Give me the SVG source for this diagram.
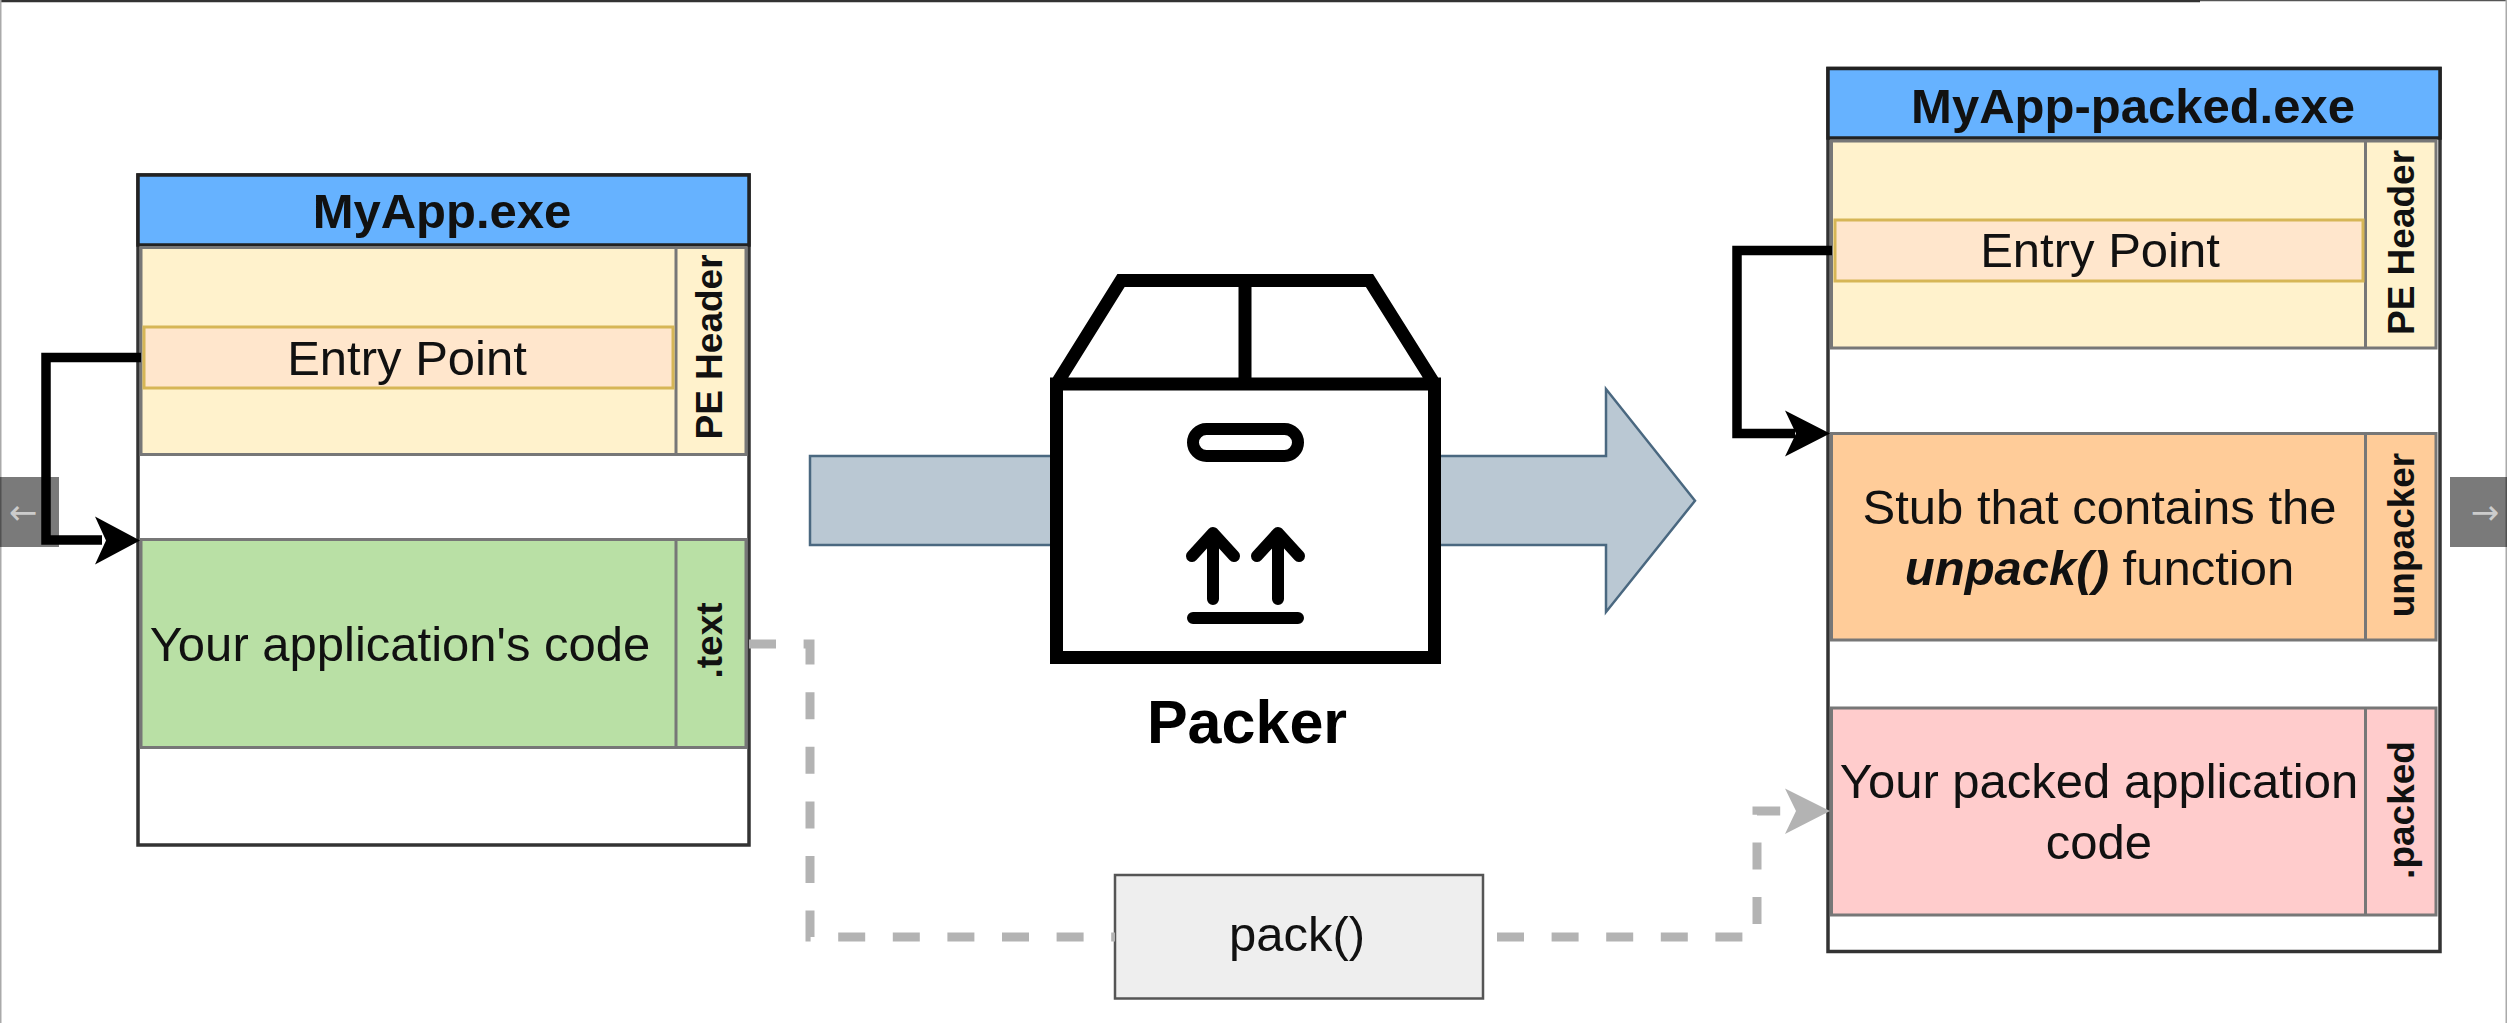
<svg xmlns="http://www.w3.org/2000/svg" width="2507" height="1023" viewBox="0 0 2507 1023">
<defs>
<style>
text{font-family:"Liberation Sans",Arial,sans-serif;fill:#111;text-anchor:middle}
.t{font-size:49px}
.b{font-size:49px;font-weight:bold}
.v{font-size:37px;font-weight:bold}
.outer{fill:#fff;stroke:#333;stroke-width:3.5}
.sec{stroke:#777;stroke-width:3}
.entry{fill:#ffe6cc;stroke:#d6b656;stroke-width:3}
.hdr{fill:#66b2ff;stroke:#222;stroke-width:3.5}
.link{fill:none;stroke:#000;stroke-width:9.5}
.dash{fill:none;stroke:#b3b3b3;stroke-width:9;stroke-dasharray:27 27.6}
.ico{fill:none;stroke:#000;stroke-width:12;stroke-linecap:round;stroke-linejoin:round}
.nav{fill:#000;fill-opacity:.52}
.navt{font-family:"DejaVu Sans",sans-serif;font-size:34px;fill:#ccc}
</style>
</defs>
<rect width="2507" height="1023" fill="#fff"/>
<g id="frame">
<path d="M0 1H2200" stroke="#333" stroke-width="2.5" fill="none"/>
<path d="M2200 .5H2507" stroke="#555" stroke-width="1.5" fill="none"/>
<path d="M.75 0V1023M2506.25 0V1023" stroke="#aaa" stroke-width="1.5" fill="none"/>
</g>
<g id="myapp">
<rect class="outer" x="138" y="175" width="611" height="670"/>
<rect class="hdr" x="138" y="175" width="611" height="70"/>
<text class="b" x="442" y="228">MyApp.exe</text>
</g>
<g id="myapp-header">
<rect class="sec" fill="#fff2cc" x="141" y="247.5" width="605" height="207"/>
<path class="sec" d="M676 247.5V454.500"/>
<text class="v" transform="translate(722 347) rotate(-90)">PE Header</text>
</g>
<g id="myapp-entry">
<rect class="entry" x="144" y="327" width="529" height="61"/>
<text class="t" x="407" y="375">Entry Point</text>
</g>
<g id="myapp-text">
<rect class="sec" fill="#b9e0a5" x="141" y="539.500" width="605" height="208"/>
<path class="sec" d="M676 539.500V747.500"/>
<text class="t" x="400" y="661">Your application's code</text>
<text class="v" transform="translate(722 640.500) rotate(-90)">.text</text>
</g>
<g id="transfer-arrow">
<path d="M810 456H1606V389L1695 500.700L1606 612V545H810Z" fill="#bac8d3" stroke="#4a6880" stroke-width="2.500"/>
</g>
<g id="packer">
<path d="M1056.500 384H1434.500V657.500H1056.500ZM1056.500 384L1121 280.500H1369.500L1434.500 384M1245 280.500V384" fill="#fff" stroke="#000" stroke-width="13" stroke-linejoin="miter"/>
<rect class="ico" x="1193" y="429" width="105" height="27" rx="13.500"/>
<path class="ico" d="M1213 599V533M1192 556L1213 533L1234 556M1278 599V533M1257 556L1278 533L1299 556M1193 618H1298"/>
<text x="1247" y="743" style="font-size:61px;font-weight:bold;fill:#000">Packer</text>
</g>
<g id="packed">
<rect class="outer" x="1828" y="68.500" width="612" height="883"/>
<rect class="hdr" x="1828" y="68.500" width="612" height="69.500"/>
<text class="b" x="2133" y="122.500">MyApp-packed.exe</text>
</g>
<g id="packed-header">
<rect class="sec" fill="#fff2cc" x="1831.500" y="141" width="604.500" height="207"/>
<path class="sec" d="M2365.500 141V348"/>
<text class="v" transform="translate(2414 242.500) rotate(-90)">PE Header</text>
</g>
<g id="packed-entry">
<rect class="entry" x="1835" y="220" width="528" height="61"/>
<text class="t" x="2100" y="267">Entry Point</text>
</g>
<g id="packed-stub">
<rect class="sec" fill="#ffcc99" x="1831.500" y="433.500" width="604.500" height="206.500"/>
<path class="sec" d="M2365.500 433.500V640"/>
<text class="t" x="2099.500" y="523.500">Stub that contains the</text>
<text class="t" x="2099.500" y="585"><tspan font-weight="bold" font-style="italic">unpack()</tspan> function</text>
<text class="v" transform="translate(2414 535) rotate(-90)">unpacker</text>
</g>
<g id="packed-code">
<rect class="sec" fill="#ffcccc" x="1831.500" y="708" width="604.500" height="207"/>
<path class="sec" d="M2365.500 708V915"/>
<text class="t" x="2099" y="798">Your packed application</text>
<text class="t" x="2099" y="859">code</text>
<text class="v" transform="translate(2414 810) rotate(-90)">.packed</text>
</g>
<g id="pack">
<rect fill="#eee" stroke="#555" stroke-width="2.500" x="1115" y="875" width="368" height="123.500"/>
<text class="t" x="1297" y="951">pack()</text>
</g>
<g id="connectors">
<path class="link" d="M141 357.500H46V540H102"/>
<path d="M140 540.500L95 516.500L106 540.500L95 564.500Z" fill="#000"/>
<path class="link" d="M1832 250.500H1737V433.500H1795"/>
<path d="M1830 433.500L1785 410.500L1796 433.500L1785 456.500Z" fill="#000"/>
<path class="dash" d="M749 644H810V937H1115"/>
<path class="dash" d="M1497 937H1757V811H1790"/>
<path d="M1830 811L1785 788.500L1796 811L1785 834Z" fill="#b3b3b3"/>
</g>
<g id="nav">
<rect class="nav" x="0" y="477" width="59" height="70"/>
<text class="navt" x="23" y="524">←</text>
<rect class="nav" x="2450" y="477" width="57" height="70"/>
<text class="navt" x="2485" y="524">→</text>
</g>
</svg>
